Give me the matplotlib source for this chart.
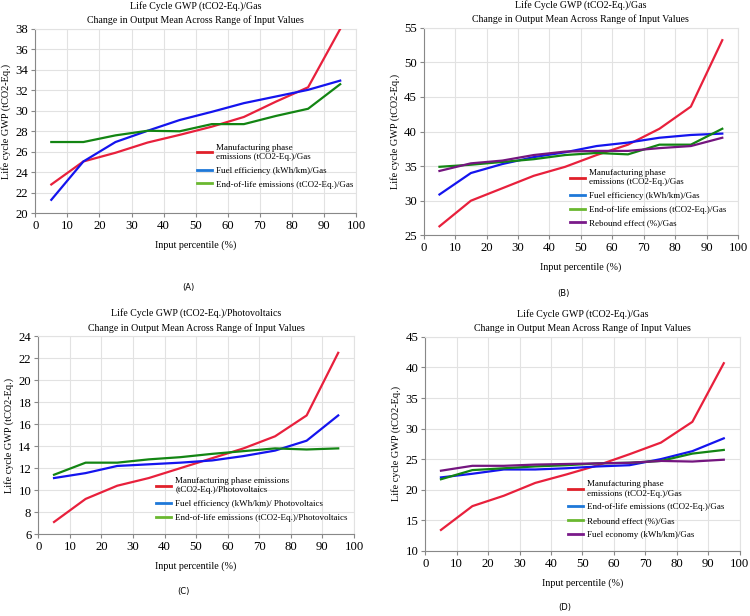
import matplotlib
matplotlib.use("Agg")
import matplotlib.pyplot as plt

plt.rcParams['font.family'] = ['Liberation Serif', 'DejaVu Serif']

x = [5, 15, 25, 35, 45, 55, 65, 75, 85, 95]

# panel A
a_manuf = [22.8, 25.05, 25.9, 26.9, 27.65, 28.45, 29.4, 30.9, 32.3, 38.0]
a_fuel = [21.3, 25.05, 26.95, 28.05, 29.1, 29.9, 30.75, 31.4, 32.05, 32.95]
a_eol = [26.95, 26.95, 27.6, 28.05, 28.0, 28.7, 28.7, 29.5, 30.2, 32.6]

# panel B
b_manuf = [26.3, 30.0, 31.8, 33.6, 34.9, 36.6, 38.1, 40.4, 43.6, 53.2]
b_fuel = [30.9, 34.0, 35.3, 36.3, 37.0, 37.9, 38.4, 39.1, 39.5, 39.7]
b_eol = [34.9, 35.2, 35.6, 36.0, 36.6, 36.9, 36.7, 38.1, 38.1, 40.4]
b_rebound = [34.3, 35.4, 35.8, 36.6, 37.1, 37.2, 37.2, 37.6, 37.9, 39.1]

# panel C
c_manuf = [7.1, 9.2, 10.4, 11.1, 12.0, 12.9, 13.8, 14.9, 16.8, 22.5]
c_fuel = [11.1, 11.55, 12.2, 12.35, 12.5, 12.7, 13.1, 13.6, 14.5, 16.8]
c_eol = [11.4, 12.5, 12.5, 12.8, 13.0, 13.3, 13.55, 13.8, 13.7, 13.8]

# panel D
d_manuf = [13.4, 17.3, 19.0, 21.1, 22.5, 24.0, 25.8, 27.7, 31.1, 40.7]
d_eol = [22.0, 22.6, 23.3, 23.3, 23.5, 23.8, 24.0, 25.0, 26.3, 28.4]
d_rebound = [21.7, 23.2, 23.5, 23.8, 24.0, 24.3, 24.4, 24.7, 25.9, 26.5]
d_economy = [23.1, 23.9, 23.9, 24.1, 24.2, 24.3, 24.4, 24.7, 24.6, 24.9]

red, blue, green, purple = '#e8203c', '#1414ee', '#138513', '#74157f'
lred, lblue, lgreen, lpurple = '#e0202a', '#1e78d8', '#6ab830', '#7a1a8a'


def panel(ax, title, series, ylim, ystep, leg_pos):
    for y, c, lc, lab in series:
        ax.plot(x, y, color=c, lw=1.6, zorder=3)
        ax.plot([], [], color=lc, lw=2, label=lab)
    ax.set_xlim(0, 100)
    ax.set_ylim(ylim)
    ax.set_xticks(range(0, 101, 10))
    ax.set_yticks(range(ylim[0], ylim[1] + 1, ystep))
    ax.grid(color='#e2e2e2', lw=0.8)
    ax.set_axisbelow(True)
    ax.tick_params(labelsize=9.2, length=3, color='#888888', pad=2)
    for s in ['top', 'right']:
        ax.spines[s].set_color('#e2e2e2')
    for s in ['left', 'bottom']:
        ax.spines[s].set_color('#888888')
    ax.set_title(title, fontsize=7.1, linespacing=1.6, pad=4)
    ax.set_xlabel('Input percentile (%)', fontsize=7.2, labelpad=6)
    ax.set_ylabel('Life cycle GWP (tCO2-Eq.)', fontsize=7.4, labelpad=3)
    ax.legend(loc='upper left', bbox_to_anchor=leg_pos, frameon=False,
              fontsize=6.5, handlelength=1.65, handletextpad=0.45,
              labelspacing=0.6, borderpad=0)


fig = plt.figure(figsize=(7.5, 6.16), dpi=100)

title_gas = 'Life Cycle GWP (tCO2-Eq.)/Gas\nChange in Output Mean Across Range of Input Values'
title_pv = 'Life Cycle GWP (tCO2-Eq.)/Photovoltaics\nChange in Output Mean Across Range of Input Values'

ax1 = fig.add_axes([0.047, 0.654, 0.428, 0.299])
panel(ax1, title_gas,
      [(a_manuf, red, lred, 'Manufacturing phase\nemissions (tCO2-Eq.)/Gas'),
       (a_fuel, blue, lblue, 'Fuel efficiency (kWh/km)/Gas'),
       (a_eol, green, lgreen, 'End-of-life emissions (tCO2-Eq.)/Gas')],
      (20, 38), 2, (0.49, 0.4))

ax2 = fig.add_axes([0.565, 0.618, 0.419, 0.337])
panel(ax2, title_gas,
      [(b_manuf, red, lred, 'Manufacturing phase\nemissions (tCO2-Eq.)/Gas'),
       (b_fuel, blue, lblue, 'Fuel efficiency (kWh/km)/Gas'),
       (b_eol, green, lgreen, 'End-of-life emissions (tCO2-Eq.)/Gas'),
       (b_rebound, purple, lpurple, 'Rebound effect (%)/Gas')],
      (25, 55), 5, (0.45, 0.34))

ax3 = fig.add_axes([0.051, 0.133, 0.421, 0.321])
panel(ax3, title_pv,
      [(c_manuf, red, lred, 'Manufacturing phase emissions\n(tCO2-Eq.)/Photovoltaics'),
       (c_fuel, blue, lblue, 'Fuel efficiency (kWh/km)/ Photovoltaics'),
       (c_eol, green, lgreen, 'End-of-life emissions (tCO2-Eq.)/Photovoltaics')],
      (6, 24), 2, (0.36, 0.31))

ax4 = fig.add_axes([0.567, 0.106, 0.419, 0.347])
panel(ax4, title_gas,
      [(d_manuf, red, lred, 'Manufacturing phase\nemissions (tCO2-Eq.)/Gas'),
       (d_eol, blue, lblue, 'End-of-life emissions (tCO2-Eq.)/Gas'),
       (d_rebound, green, lgreen, 'Rebound effect (%)/Gas'),
       (d_economy, purple, lpurple, 'Fuel economy (kWh/km)/Gas')],
      (10, 45), 5, (0.44, 0.35))

for tx, ty, t in [(0.251, 0.534, '(A)'), (0.751, 0.524, '(B)'),
                  (0.244, 0.040, '(C)'), (0.753, 0.014, '(D)')]:
    fig.text(tx, ty, t, fontsize=6, family='DejaVu Sans', ha='center', va='center')

fig.savefig('out.png', dpi=100)
